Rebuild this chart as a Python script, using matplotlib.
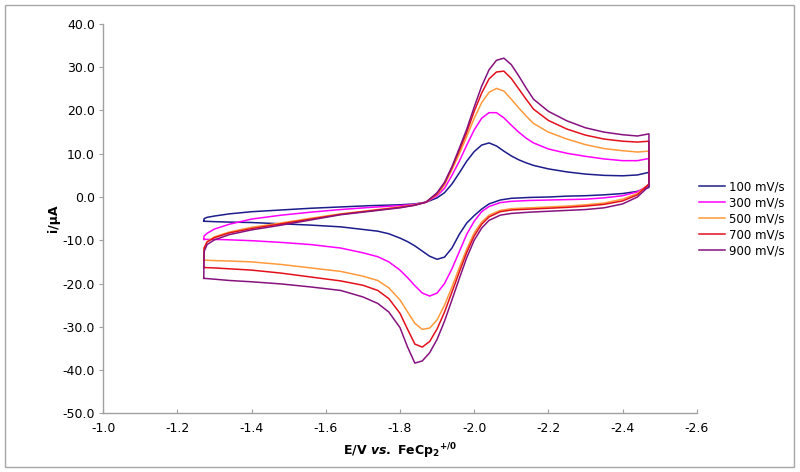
import numpy as np
import matplotlib
matplotlib.use("Agg")
import matplotlib.pyplot as plt
from matplotlib.patches import Rectangle


# scan rates for the legend
scan_rates = ["100 mV/s", "300 mV/s", "500 mV/s", "700 mV/s", "900 mV/s"]
line_colors = ["#1c1c8c", "#ff00ff", "#ff9a3c", "#e3101c", "#86127f"]

# forward sweep (-1.27 -> -2.47 V), shared potentials
e_fwd = [-1.271, -1.272, -1.28, -1.30, -1.34, -1.40, -1.48, -1.56, -1.64, -1.72,
         -1.80, -1.84, -1.87, -1.90, -1.92, -1.94, -1.96, -1.98, -2.00, -2.02,
         -2.04, -2.06, -2.08, -2.10, -2.12, -2.14, -2.16, -2.20, -2.25, -2.30,
         -2.35, -2.40, -2.44, -2.471]

i_fwd_100 = [-5.6, -5.0, -4.7, -4.4, -3.9, -3.4, -3.0, -2.6, -2.3, -2.0,
             -1.8, -1.6, -1.2, -0.2, 1.0, 3.0, 5.6, 8.3, 10.5, 12.0,
             12.5, 11.8, 10.6, 9.5, 8.6, 7.9, 7.3, 6.5, 5.8, 5.3,
             5.0, 4.9, 5.1, 5.7]
i_fwd_300 = [-9.8, -9.0, -8.4, -7.4, -6.3, -5.1, -4.2, -3.5, -2.9, -2.4,
             -2.0, -1.7, -1.2, 0.3, 2.0, 5.0, 8.3, 12.0, 15.5, 18.2,
             19.5, 19.5, 18.3, 16.6, 15.0, 13.6, 12.5, 11.1, 10.1, 9.4,
             8.8, 8.4, 8.4, 8.9]
i_fwd_500 = [-14.6, -11.8, -10.3, -9.2, -8.1, -7.0, -6.0, -4.9, -3.9, -3.1,
             -2.3, -1.8, -1.2, 0.6, 2.8, 6.3, 10.0, 14.0, 18.2, 21.8,
             24.2, 25.1, 24.5, 22.6, 20.6, 18.7, 17.0, 15.0, 13.4, 12.1,
             11.2, 10.7, 10.4, 10.6]
i_fwd_700 = [-16.3, -11.8, -10.4, -9.4, -8.3, -7.3, -6.2, -5.1, -4.0, -3.2,
             -2.4, -1.9, -1.2, 0.8, 3.2, 6.8, 10.8, 15.0, 19.8, 24.0,
             27.3, 28.9, 29.1, 27.4, 25.0, 22.6, 20.3, 17.7, 15.7, 14.3,
             13.4, 12.9, 12.7, 12.9]
i_fwd_900 = [-18.8, -12.6, -11.0, -9.9, -8.7, -7.6, -6.5, -5.3, -4.1, -3.3,
             -2.5, -1.9, -1.2, 1.0, 3.4, 7.0, 11.3, 15.7, 20.8, 25.6,
             29.4, 31.6, 32.1, 30.6, 28.0, 25.2, 22.6, 19.8, 17.6, 16.0,
             15.0, 14.4, 14.1, 14.6]

# reverse sweep (-2.47 -> -1.27 V), shared potentials
e_rev = [-2.471, -2.44, -2.40, -2.35, -2.30, -2.25, -2.20, -2.15, -2.10, -2.07,
         -2.04, -2.02, -2.00, -1.98, -1.96, -1.94, -1.92, -1.90, -1.88, -1.86,
         -1.84, -1.82, -1.80, -1.77, -1.74, -1.70, -1.64, -1.56, -1.48, -1.40,
         -1.34, -1.30, -1.271]

i_rev_100 = [2.2, 1.3, 0.8, 0.5, 0.3, 0.2, 0.0, -0.1, -0.3, -0.7,
             -1.6, -2.8, -4.3, -6.0, -8.6, -11.8, -13.9, -14.4, -13.7, -12.5,
             -11.3, -10.3, -9.5, -8.5, -7.9, -7.5, -6.9, -6.5, -6.2, -5.9,
             -5.8, -5.7, -5.6]
i_rev_300 = [2.8, 1.2, 0.3, -0.2, -0.5, -0.6, -0.7, -0.8, -1.0, -1.3,
             -2.2, -3.4, -5.6, -8.6, -12.6, -16.6, -20.0, -22.2, -22.9, -22.2,
             -20.5, -18.6, -16.9, -15.0, -13.8, -12.9, -11.8, -11.0, -10.5, -10.1,
             -9.9, -9.8, -9.8]
i_rev_500 = [3.0, 0.8, -0.5, -1.4, -1.8, -2.1, -2.3, -2.5, -2.7, -3.1,
             -4.2, -5.8, -8.3, -12.0, -16.3, -20.8, -25.0, -28.4, -30.3, -30.6,
             -29.2, -26.5, -23.8, -21.0, -19.3, -18.3, -17.2, -16.4, -15.6, -15.0,
             -14.8, -14.7, -14.6]
i_rev_700 = [3.0, 0.5, -0.9, -1.7, -2.1, -2.4, -2.6, -2.8, -3.0, -3.4,
             -4.6, -6.3, -9.0, -12.8, -17.3, -22.0, -26.6, -30.5, -33.4, -34.7,
             -34.0, -30.5, -26.9, -23.5, -21.6, -20.4, -19.4, -18.5, -17.6, -16.9,
             -16.6, -16.4, -16.3]
i_rev_900 = [2.5, 0.0, -1.6, -2.5, -2.9, -3.1, -3.3, -3.5, -3.8, -4.2,
             -5.4, -7.2, -10.0, -14.0, -18.8, -23.8, -28.7, -32.9, -36.0, -37.9,
             -38.4, -34.6, -30.2, -26.6, -24.6, -23.1, -21.6, -20.8, -20.1, -19.6,
             -19.3, -19.0, -18.8]

x_ticks = [-1.0, -1.2, -1.4, -1.6, -1.8, -2.0, -2.2, -2.4, -2.6]
y_ticks = [-50, -40, -30, -20, -10, 0, 10, 20, 30, 40]

fwd_all = [i_fwd_100, i_fwd_300, i_fwd_500, i_fwd_700, i_fwd_900]
rev_all = [i_rev_100, i_rev_300, i_rev_500, i_rev_700, i_rev_900]

#######################################################################################################

plt.rcParams["font.family"] = ["DejaVu Sans"]
plt.rcParams["mathtext.fontset"] = "custom"
plt.rcParams["mathtext.rm"] = "DejaVu Sans:bold"
plt.rcParams["mathtext.bf"] = "DejaVu Sans:bold"
plt.rcParams["mathtext.it"] = "DejaVu Sans:bold:italic"

fig = plt.figure(figsize=(8.0, 4.72), dpi=100)
ax = fig.add_axes([0.129, 0.1244, 0.742, 0.8248])

for label, color, i_f, i_r in zip(scan_rates, line_colors, fwd_all, rev_all):
    e = list(e_fwd) + list(e_rev)
    cur = list(i_f) + list(i_r)
    ax.plot(e, cur, color=color, lw=1.1, label=label)

ax.set_xlim(-1.0, -2.6)
ax.set_ylim(-50, 40)
ax.set_xticks(x_ticks)
ax.set_yticks(y_ticks)
ax.set_xticklabels(["%.1f" % v for v in x_ticks])
ax.set_yticklabels(["%.1f" % v for v in y_ticks])

for side in ["top", "right"]:
    ax.spines[side].set_visible(False)
for side in ["left", "bottom"]:
    ax.spines[side].set_color("#a0a0a0")
    ax.spines[side].set_linewidth(1.0)

ax.tick_params(axis="y", direction="out", length=3, width=0.8, color="#a0a0a0",
               labelsize=9, pad=3)
ax.tick_params(axis="x", direction="in", length=3, width=0.8, color="#a0a0a0",
               labelsize=9, pad=6)

ax.set_ylabel("i/μA", fontsize=9, fontweight="bold", labelpad=2)
ax.set_xlabel(r"E/V $\mathit{vs.}$ FeCp$_{2}$$^{+/0}$", fontsize=9,
              fontweight="bold", labelpad=5)

fig.legend(loc="upper left", bbox_to_anchor=(0.868, 0.628), frameon=False,
           fontsize=8.5, handlelength=2.2, handletextpad=0.35,
           labelspacing=0.25, borderaxespad=0)

# chart area border
fig.patches.append(Rectangle((0.0059, 0.0112), 0.9866, 0.9788, transform=fig.transFigure,
                             fill=False, edgecolor="#a8a8a8", lw=1.0))

fig.savefig("out.png", dpi=100)
